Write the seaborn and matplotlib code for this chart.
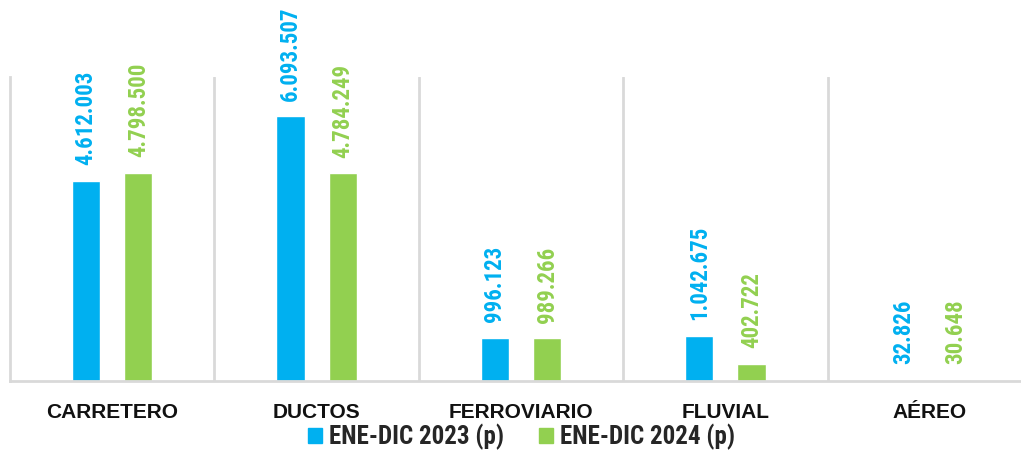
import matplotlib
matplotlib.use('Agg')
import matplotlib.pyplot as plt
import seaborn as sns
import pandas as pd
from matplotlib.patches import Patch

# data
modos = ['CARRETERO', 'DUCTOS', 'FERROVIARIO', 'FLUVIAL', 'AÉREO']
periodos = ['ENE-DIC 2023 (p)', 'ENE-DIC 2024 (p)']
valores_2023 = [4612003, 6093507, 996123, 1042675, 32826]
valores_2024 = [4798500, 4784249, 989266, 402722, 30648]
colores = ['#00B0F0', '#92D050']

df = pd.DataFrame({
    'modo': modos * 2,
    'periodo': [periodos[0]] * len(modos) + [periodos[1]] * len(modos),
    'valor': valores_2023 + valores_2024,
})

sns.set_theme(style='white')
plt.rcParams['font.family'] = ['Roboto Condensed', 'Liberation Sans Narrow', 'Roboto', 'DejaVu Sans']

fig = plt.figure(figsize=(10.21, 4.53), dpi=100)
ax = fig.add_axes([10 / 1021, 72 / 453, 1022 / 1021, 304 / 453])

sns.barplot(data=df, x='modo', y='valor', hue='periodo', palette=colores,
            saturation=1, width=0.51, gap=0.46, ax=ax, legend=False)

# value labels
for cont, col in zip(ax.containers, colores):
    etiquetas = [f'{int(b.get_height()):,}'.replace(',', '.') for b in cont]
    ax.bar_label(cont, labels=etiquetas, rotation=90, padding=11, color=col,
                 fontsize=16.5, fontweight='bold')

ax.set_xlim(-0.5, 4.5)
ax.set_ylim(0, 7000000)
ax.set_yticks([])
ax.set_xlabel('')
ax.set_ylabel('')

# vertical separators between categories
ax.set_xticks([i + 0.5 for i in range(len(modos))], minor=True)
ax.grid(which='minor', axis='x', color='#d9d9d9', linewidth=2)
ax.tick_params(which='both', length=0)
ax.set_xticks(range(len(modos)))
ax.set_xticklabels(modos, fontsize=15, fontweight='bold', color='#111111',
                   family=['Liberation Sans', 'DejaVu Sans'])
ax.tick_params(axis='x', pad=16)

for s in ['top', 'right']:
    ax.spines[s].set_visible(False)
ax.spines['left'].set_color('#d9d9d9')
ax.spines['left'].set_linewidth(2)
ax.spines['bottom'].set_color('#d9d9d9')
ax.spines['bottom'].set_linewidth(2)

handles = [Patch(color=c, label=p) for c, p in zip(colores, periodos)]
fig.legend(handles=handles, loc='center', bbox_to_anchor=(0.511, 0.035),
           ncol=2, frameon=False, handlelength=0.55, handleheight=0.55,
           handletextpad=0.3, columnspacing=1.4,
           prop={'size': 18, 'weight': 'bold'})

fig.savefig('out.png', dpi=100)
